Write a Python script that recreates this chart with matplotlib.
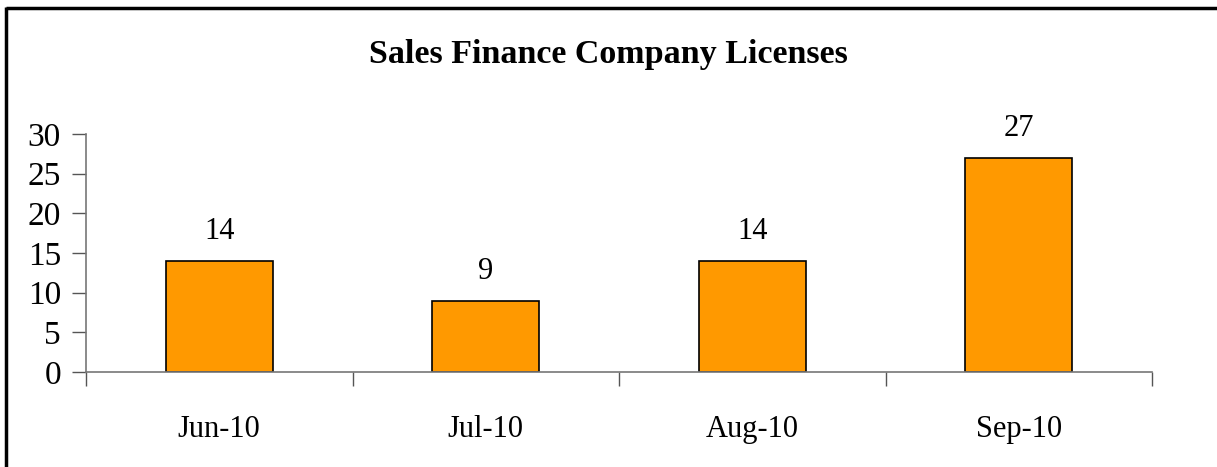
import matplotlib.pyplot as plt
from matplotlib.lines import Line2D
import numpy as np

months = ['Jun-10', 'Jul-10', 'Aug-10', 'Sep-10']
licenses = [14, 9, 14, 27]
title = 'Sales Finance Company Licenses'

plt.rcParams['font.family'] = ['Liberation Serif', 'DejaVu Serif']

W, H = 1217, 467
fig = plt.figure(figsize=(W / 100, H / 100), dpi=100)
ax = fig.add_axes([86 / W, 1 - 372 / H, (1152 - 86) / W, (372 - 134) / H])

x = np.arange(len(months))
ax.bar(x, licenses, width=0.4, color='#FF9900', edgecolor='black', linewidth=1.2, zorder=2)
for xi, v in zip(x, licenses):
    ax.text(xi, v + 1.9, str(v), ha='center', va='bottom', fontsize=22)

ax.set_xlim(-0.5, len(months) - 0.5)
ax.set_ylim(0, 30)
ax.set_yticks(range(0, 31, 5))
ax.set_xticks(x)
ax.set_xticklabels(months)
ax.set_xticks(np.arange(-0.5, len(months)), minor=True)
ax.tick_params(axis='x', which='major', length=0, pad=31, labelsize=22)
ax.tick_params(axis='x', which='minor', length=10, width=1, color='#555555')
ax.tick_params(axis='y', length=10, width=1, color='#555555', pad=8, labelsize=24)

for s in ['top', 'right']:
    ax.spines[s].set_visible(False)
for s in ['left', 'bottom']:
    ax.spines[s].set_color('#777777')
    ax.spines[s].set_linewidth(1.2)

fig.text(0.5, 1 - 55 / H, title, ha='center', va='center', fontsize=24.5, fontweight='bold')

# frame: only top and left edges visible
fig.add_artist(Line2D([6 / W, 1], [1 - 8 / H, 1 - 8 / H], transform=fig.transFigure,
                      color='black', linewidth=2.5, solid_capstyle='butt'))
fig.add_artist(Line2D([6 / W, 6 / W], [0, 1 - 7 / H], transform=fig.transFigure,
                      color='black', linewidth=2.5, solid_capstyle='butt'))

fig.savefig('out.png', dpi=100)
